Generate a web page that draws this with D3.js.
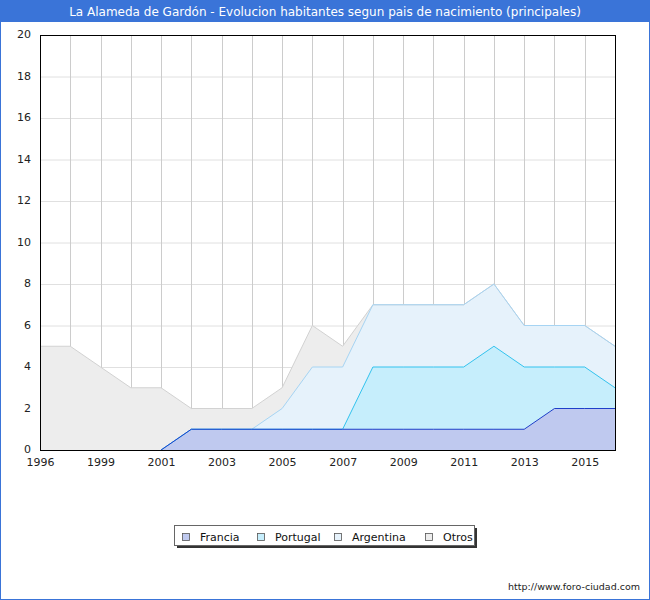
<!DOCTYPE html>
<html><head><meta charset="utf-8">
<script src="https://cdn.jsdelivr.net/npm/d3@7"></script>
<style>body{margin:0;background:#fff}svg{display:block;font-family:"DejaVu Sans",Verdana,sans-serif}</style>
</head><body>
<svg id="c" width="650" height="600"></svg>
<script>
const years = ["1996","1998","1999","2000","2001","2002","2003","2004","2005","2006","2007","2008","2009","2010","2011","2012","2013","2014","2015","2016"];
const tickLabels = ["1996","1999","2001","2003","2005","2007","2009","2011","2013","2015"];
const francia   = [0,0,0,0,0,1,1,1,1,1,1,1,1,1,1,1,1,2,2,2];
const portugal  = [0,0,0,0,0,0,0,0,0,0,0,3,3,3,3,4,3,2,2,1];
const argentina = [0,0,0,0,0,0,0,0,1,3,3,3,3,3,3,3,2,2,2,2];
const otros     = [5,5,4,3,3,1,1,1,1,2,1,0,0,0,0,0,0,0,0,0];
const seriesNames = ["Francia","Portugal","Argentina","Otros"];
const yTicks = [0,2,4,6,8,10,12,14,16,18,20];

const fills = ["#bfc9ef","#c6eefc","#e6f2fb","#ededed"];
const strokes = ["#1f3fc9","#33c3ee","#a6d4f3","#d2d2d2"];

const svg = d3.select("#c");
const W = 650, H = 600;
const m = {l:40, r:615, t:35, b:450};

// outer border and title bar
svg.append("rect").attr("x",0.5).attr("y",0.5).attr("width",W-1).attr("height",H-1)
  .attr("fill","#fff").attr("stroke","#3a74d8").attr("stroke-width",1);
svg.append("rect").attr("x",0).attr("y",0).attr("width",W).attr("height",22).attr("fill","#3a74d8");
svg.append("text").attr("x",W/2).attr("y",16).attr("text-anchor","middle")
  .attr("fill","#fff").attr("font-size",12)
  .text("La Alameda de Gardón - Evolucion habitantes segun pais de nacimiento (principales)");

const x = d3.scalePoint().domain(years).range([m.l, m.r]);
const y = d3.scaleLinear().domain([0,20]).range([m.b, m.t]);

// grid
const g = svg.append("g");
g.selectAll(".hg").data(yTicks.slice(1)).join("line")
  .attr("x1",m.l).attr("x2",m.r).attr("y1",d=>y(d)+0.5).attr("y2",d=>y(d)+0.5)
  .attr("stroke","#e0e0e0").attr("stroke-width",1);
g.selectAll(".vg").data(years.slice(1)).join("line")
  .attr("x1",d=>Math.round(x(d))+0.5).attr("x2",d=>Math.round(x(d))+0.5).attr("y1",m.t).attr("y2",m.b)
  .attr("stroke","#cccccc").attr("stroke-width",1);

// stacked areas
const data = years.map((yr,i)=>({yr, Francia:francia[i], Portugal:portugal[i], Argentina:argentina[i], Otros:otros[i]}));
const stack = d3.stack().keys(seriesNames)(data);
const line = d3.line().x(d=>x(d.data.yr)).y(d=>y(d[1]));

for (let k = stack.length-1; k >= 0; k--) {
  const s = stack[k];
  const a = d3.area().x(d=>x(d.data.yr)).y0(y(0)).y1(d=>y(d[1]));
  svg.append("path").datum(s).attr("d",a).attr("fill",fills[k]).attr("stroke","none");
}
for (let k = stack.length-1; k >= 0; k--) {
  const s = stack[k];
  let first = s.findIndex(d=>d[1]>0);
  const seg = s.slice(Math.max(0, first-1));
  svg.append("path").datum(seg).attr("d",line).attr("fill","none")
    .attr("stroke",strokes[k]).attr("stroke-width",1);
}

// plot frame
svg.append("rect").attr("x",m.l+0.5).attr("y",m.t+0.5).attr("width",m.r-m.l).attr("height",m.b-m.t)
  .attr("fill","none").attr("stroke","#000").attr("stroke-width",1);

// axes
const yAxis = d3.axisLeft(y).tickValues(yTicks).tickSize(0).tickPadding(9);
const ya = svg.append("g").attr("transform",`translate(${m.l},-1)`).call(yAxis);
ya.select(".domain").remove();
ya.selectAll("text").attr("font-size",11).attr("fill","#222").attr("font-family","DejaVu Sans, sans-serif");

const xAxis = d3.axisBottom(x).tickValues(years.filter((d,i)=>i%2===0)).tickSize(0).tickPadding(8)
  .tickFormat((d,i)=>tickLabels[i]);
const xa = svg.append("g").attr("transform",`translate(0,${m.b})`).call(xAxis);
xa.select(".domain").remove();
xa.selectAll("text").attr("font-size",11).attr("fill","#222").attr("font-family","DejaVu Sans, sans-serif");

// legend
const lg = svg.append("g");
lg.append("rect").attr("x",177).attr("y",528).attr("width",300).attr("height",20).attr("fill","#333");
lg.append("rect").attr("x",174.5).attr("y",525.5).attr("width",300).attr("height",20).attr("fill","#fff").attr("stroke","#666");
const lx = [182, 257, 334, 425];
seriesNames.forEach((n,i)=>{
  lg.append("rect").attr("x",lx[i]+0.5).attr("y",533.5).attr("width",7).attr("height",7)
    .attr("fill",fills[i]).attr("stroke","#555").attr("stroke-width",0.8);
  lg.append("text").attr("x",lx[i]+18).attr("y",541).attr("font-size",11).attr("fill","#111").text(n);
});

svg.append("text").attr("x",640).attr("y",590).attr("text-anchor","end").attr("font-size",9.5).attr("fill","#222")
  .text("http://www.foro-ciudad.com");
</script>
</body></html>
